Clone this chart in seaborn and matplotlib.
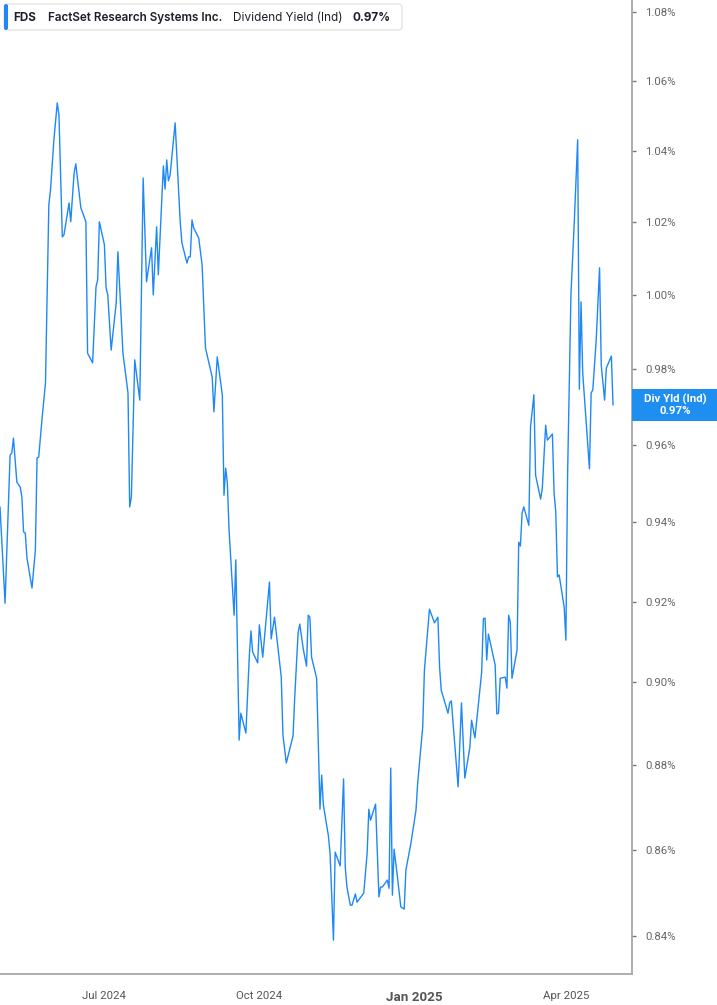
import matplotlib
matplotlib.use("Agg")
import matplotlib.pyplot as plt
import matplotlib.ticker as mticker
from matplotlib.patches import FancyBboxPatch, Rectangle
import pandas as pd
import seaborn as sns

# Chart text
ticker_sym = "FDS"
company = "FactSet Research Systems Inc."
metric = "Dividend Yield (Ind)"
short_metric = "Div Yld (Ind)"

# Dividend yield (%)
dates = [
    "2024-04-30", "2024-05-03", "2024-05-06", "2024-05-07", "2024-05-08", "2024-05-10",
    "2024-05-12", "2024-05-13", "2024-05-14", "2024-05-15", "2024-05-16", "2024-05-19",
    "2024-05-21", "2024-05-22", "2024-05-23", "2024-05-25", "2024-05-27", "2024-05-29",
    "2024-05-30", "2024-06-01", "2024-06-03", "2024-06-04", "2024-06-06", "2024-06-07",
    "2024-06-10", "2024-06-11", "2024-06-13", "2024-06-14", "2024-06-17", "2024-06-20",
    "2024-06-21", "2024-06-24", "2024-06-26", "2024-06-27", "2024-06-28", "2024-07-01",
    "2024-07-02", "2024-07-03", "2024-07-05", "2024-07-08", "2024-07-09", "2024-07-12",
    "2024-07-15", "2024-07-16", "2024-07-17", "2024-07-19", "2024-07-22", "2024-07-24",
    "2024-07-26", "2024-07-29", "2024-07-30", "2024-08-01", "2024-08-02", "2024-08-05",
    "2024-08-06", "2024-08-07", "2024-08-08", "2024-08-09", "2024-08-12", "2024-08-15",
    "2024-08-16", "2024-08-19", "2024-08-20", "2024-08-21", "2024-08-22", "2024-08-23",
    "2024-08-26", "2024-08-28", "2024-08-30", "2024-09-03", "2024-09-04", "2024-09-06",
    "2024-09-09", "2024-09-10", "2024-09-11", "2024-09-12", "2024-09-13", "2024-09-16",
    "2024-09-17", "2024-09-19", "2024-09-20", "2024-09-23", "2024-09-25", "2024-09-26",
    "2024-09-27", "2024-09-30", "2024-10-01", "2024-10-03", "2024-10-07", "2024-10-08",
    "2024-10-10", "2024-10-14", "2024-10-15", "2024-10-17", "2024-10-21", "2024-10-22",
    "2024-10-24", "2024-10-25", "2024-10-27", "2024-10-29", "2024-10-30", "2024-10-31",
    "2024-11-01", "2024-11-04", "2024-11-06", "2024-11-07", "2024-11-08", "2024-11-11",
    "2024-11-12", "2024-11-14", "2024-11-15", "2024-11-18", "2024-11-20", "2024-11-21",
    "2024-11-22", "2024-11-24", "2024-11-25", "2024-11-27", "2024-11-28", "2024-12-02",
    "2024-12-04", "2024-12-05", "2024-12-06", "2024-12-09", "2024-12-11", "2024-12-12",
    "2024-12-13", "2024-12-16", "2024-12-17", "2024-12-18", "2024-12-19", "2024-12-20",
    "2024-12-22", "2024-12-24", "2024-12-26", "2024-12-27", "2024-12-30", "2025-01-02",
    "2025-01-03", "2025-01-06", "2025-01-07", "2025-01-10", "2025-01-13", "2025-01-15",
    "2025-01-16", "2025-01-17", "2025-01-21", "2025-01-22", "2025-01-23", "2025-01-27",
    "2025-01-29", "2025-01-31", "2025-02-03", "2025-02-04", "2025-02-06", "2025-02-10",
    "2025-02-11", "2025-02-12", "2025-02-13", "2025-02-14", "2025-02-18", "2025-02-19",
    "2025-02-20", "2025-02-21", "2025-02-24", "2025-02-25", "2025-02-26", "2025-02-27",
    "2025-02-28", "2025-03-03", "2025-03-04", "2025-03-05", "2025-03-06", "2025-03-07",
    "2025-03-10", "2025-03-11", "2025-03-13", "2025-03-14", "2025-03-17", "2025-03-18",
    "2025-03-20", "2025-03-21", "2025-03-24", "2025-03-25", "2025-03-26", "2025-03-27",
    "2025-03-28", "2025-03-31", "2025-04-01", "2025-04-02", "2025-04-04", "2025-04-06",
    "2025-04-08", "2025-04-09", "2025-04-10", "2025-04-11", "2025-04-15", "2025-04-16",
    "2025-04-17", "2025-04-19", "2025-04-21", "2025-04-22", "2025-04-24", "2025-04-25",
    "2025-04-28", "2025-04-29",
]
yield_pct = [
    0.9440, 0.9196, 0.9574, 0.9579, 0.9618, 0.9504,
    0.9491, 0.9465, 0.9376, 0.9373, 0.9310, 0.9234,
    0.9330, 0.9566, 0.9569, 0.9671, 0.9763, 1.0248,
    1.0290, 1.0431, 1.0536, 1.0502, 1.0159, 1.0165,
    1.0253, 1.0201, 1.0337, 1.0363, 1.0240, 1.0201,
    0.9843, 0.9817, 1.0022, 1.0041, 1.0201, 1.0137,
    1.0019, 1.0000, 0.9851, 0.9978, 1.0118, 0.9843,
    0.9737, 0.9440, 0.9465, 0.9825, 0.9718, 1.0323,
    1.0036, 1.0129, 1.0000, 1.0187, 1.0055, 1.0357,
    1.0292, 1.0374, 1.0315, 1.0331, 1.0479, 1.0201,
    1.0143, 1.0087, 1.0104, 1.0104, 1.0206, 1.0184,
    1.0156, 1.0082, 0.9857, 0.9779, 0.9687, 0.9833,
    0.9732, 0.9470, 0.9540, 0.9501, 0.9381, 0.9166,
    0.9305, 0.8860, 0.8925, 0.8877, 0.9062, 0.9127,
    0.9075, 0.9048, 0.9142, 0.9062, 0.9249, 0.9107,
    0.9161, 0.9013, 0.8872, 0.8805, 0.8870, 0.8964,
    0.9122, 0.9144, 0.9084, 0.9040, 0.9166, 0.9161,
    0.9062, 0.9010, 0.8695, 0.8776, 0.8705, 0.8632,
    0.8590, 0.8391, 0.8594, 0.8562, 0.8767, 0.8559,
    0.8513, 0.8471, 0.8471, 0.8497, 0.8478, 0.8499,
    0.8592, 0.8695, 0.8669, 0.8707, 0.8490, 0.8513,
    0.8513, 0.8529, 0.8510, 0.8793, 0.8494, 0.8601,
    0.8536, 0.8467, 0.8462, 0.8552, 0.8615, 0.8693,
    0.8757, 0.8891, 0.9030, 0.9181, 0.9147, 0.9161,
    0.9038, 0.8981, 0.8925, 0.8950, 0.8955, 0.8748,
    0.8950, 0.8769, 0.8843, 0.8908, 0.8865, 0.9025,
    0.9157, 0.9159, 0.9055, 0.9119, 0.9043, 0.8923,
    0.8925, 0.9010, 0.9013, 0.8986, 0.9166, 0.9149,
    0.9010, 0.9080, 0.9350, 0.9340, 0.9424, 0.9440,
    0.9393, 0.9647, 0.9732, 0.9522, 0.9460, 0.9488,
    0.9652, 0.9613, 0.9629, 0.9476, 0.9427, 0.9262,
    0.9267, 0.9186, 0.9104, 0.9517, 1.0000, 1.0201,
    1.0431, 0.9747, 0.9981, 0.9790, 0.9538, 0.9737,
    0.9745, 0.9878, 1.0074, 0.9811, 0.9718, 0.9803,
    0.9835, 0.9705,
]

# Axis ticks
y_ticks = [0.84, 0.86, 0.88, 0.90, 0.92, 0.94, 0.96, 0.98, 1.00, 1.02, 1.04, 1.06, 1.08]
x_ticks = ["2024-07-01", "2024-10-01", "2025-01-01", "2025-04-01"]
x_tick_labels = ["Jul 2024", "Oct 2024", "Jan 2025", "Apr 2025"]

df = pd.DataFrame({"Date": pd.to_datetime(dates), "Yield": yield_pct})

line_blue = "#1E88F5"
axis_gray = "#A8A8A8"

sns.set_style("white")
plt.rcParams["font.family"] = ["Roboto", "DejaVu Sans"]

W, H = 717, 1005
fig = plt.figure(figsize=(W / 100, H / 100), dpi=100)
ax = fig.add_axes([0, (H - 974) / H, 632.4 / W, 974 / H])

sns.lineplot(data=df, x="Date", y="Yield", ax=ax, estimator=None, sort=False,
             color=line_blue, linewidth=1.0)

ax.set_yscale("log")
ax.set_ylim(0.8314, 1.0835)
ax.set_xlim(pd.Timestamp("2024-04-30"), pd.Timestamp("2025-05-10 12:00"))

ax.yaxis.set_major_locator(mticker.FixedLocator(y_ticks))
ax.yaxis.set_minor_locator(mticker.NullLocator())
ax.yaxis.set_major_formatter(mticker.FuncFormatter(lambda v, p: f"{v:.2f}%"))
ax.yaxis.tick_right()
ax.tick_params(axis="y", which="major", right=True, left=False, length=3, width=1,
               color="#777777", pad=6, labelsize=8.2, labelcolor="#666666")

ax.set_xticks(pd.to_datetime(x_ticks))
ax.set_xticklabels(x_tick_labels)
ax.tick_params(axis="x", length=5, width=1, color=axis_gray, pad=7,
               labelsize=8.2, labelcolor="#555555")
jan = ax.get_xticklabels()[2]
jan.set_fontweight("bold")
jan.set_fontsize(9.6)

ax.set_xlabel("")
ax.set_ylabel("")
ax.grid(False)
for side in ["left", "top"]:
    ax.spines[side].set_visible(False)
for side in ["right", "bottom"]:
    ax.spines[side].set_color(axis_gray)
    ax.spines[side].set_linewidth(1.3)

# header legend box (inches, dpi 100 -> 1 inch = 100 px)
inch = fig.dpi_scale_trans
box_left, box_w = 0.04, 3.98
box = FancyBboxPatch((box_left, (H - 30) / 100), box_w, 0.26,
                     boxstyle="round,pad=0,rounding_size=0.04",
                     transform=inch, facecolor="white", edgecolor="#E4E4E4",
                     linewidth=1.0, zorder=5)
fig.add_artist(box)
accent = FancyBboxPatch((box_left, (H - 30) / 100), 0.04, 0.26,
                        boxstyle="round,pad=0,rounding_size=0.02",
                        transform=inch, facecolor=line_blue, edgecolor="none", zorder=6)
fig.add_artist(accent)

# header texts placed one after another
hdr_y = (H - 17.5) / 100
hdr_font = ["Inter", "DejaVu Sans"]
hdr_parts = [(ticker_sym, "bold", 11.5), (company, "semibold", 11),
             (metric, "normal", 10), (f"{yield_pct[-1]:.2f}%", "bold", 0)]
fig.canvas.draw()
renderer = fig.canvas.get_renderer()
x_px = 13.5
for txt, weight, gap in hdr_parts:
    t = fig.text(x_px / 100, hdr_y, txt, transform=inch, fontsize=8.45, fontweight=weight,
                 color="#1E1E2A", va="center", family=hdr_font, zorder=7)
    x_px += t.get_window_extent(renderer).width + gap

# last value tag on the right axis
last_y_px = ax.transData.transform((ax.get_xlim()[0], yield_pct[-1]))[1]
tag_h = 32
tag = Rectangle((632.4 / 100, (last_y_px - tag_h / 2) / 100), (W - 632.4) / 100, tag_h / 100,
                transform=inch, facecolor="#1F8EF1", edgecolor="none", zorder=6)
fig.add_artist(tag)
fig.text(6.75, (last_y_px + 6) / 100, short_metric, transform=inch, ha="center",
         va="center", fontsize=8.2, fontweight="bold", color="white", zorder=7)
fig.text(6.75, (last_y_px - 6) / 100, f"{yield_pct[-1]:.2f}%", transform=inch,
         ha="center", va="center", fontsize=8.2, fontweight="bold", color="white", zorder=7)

fig.savefig("out.png", dpi=100)
